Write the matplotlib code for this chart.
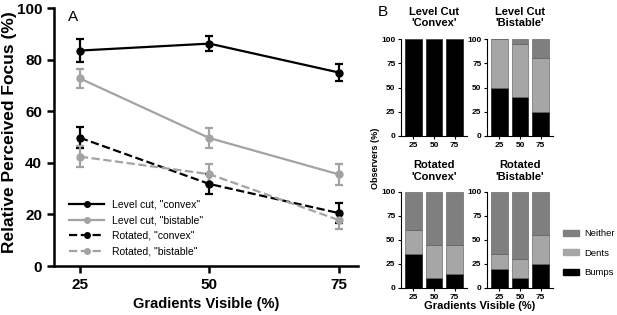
import numpy as np
import matplotlib
matplotlib.use('Agg')
import matplotlib.pyplot as plt
from matplotlib.patches import Patch
from matplotlib.lines import Line2D

plt.rcParams['font.family'] = ['Liberation Sans', 'DejaVu Sans']

# Panel A: relative perceived focus
gradients = [25, 50, 75]
level_convex = [83.5, 86.2, 75.0]
level_convex_err = [4.5, 3.0, 3.3]
level_bistable = [72.7, 49.6, 35.5]
level_bistable_err = [3.8, 4.0, 4.0]
rotated_convex = [49.7, 31.8, 20.5]
rotated_convex_err = [4.0, 3.8, 4.0]
rotated_bistable = [42.4, 35.6, 17.8]
rotated_bistable_err = [4.2, 4.0, 3.3]

# Panel B: observer responses (%), stacked
titles = ["Level Cut\n'Convex'", "Level Cut\n'Bistable'",
          "Rotated\n'Convex'", "Rotated\n'Bistable'"]
bumps = [[100, 100, 100], [50, 40, 25], [35, 10, 15], [20, 10, 25]]
dents = [[0, 0, 0], [50, 55, 55], [25, 35, 30], [15, 20, 30]]
neither = [[0, 0, 0], [0, 5, 20], [40, 55, 55], [65, 70, 45]]
tick_labels = ['25', '50', '75']

W, H = 617, 315
fig = plt.figure(figsize=(W / 100, H / 100), dpi=100)


def px_axes(l, r, t, b):
    return fig.add_axes([l / W, 1 - b / H, (r - l) / W, (b - t) / H])


gray = '#a3a3a3'
ax = px_axes(54, 358, 8, 266)
series = [
    (level_convex, level_convex_err, 'black', '-', 'Level cut, "convex"'),
    (level_bistable, level_bistable_err, gray, '-', 'Level cut, "bistable"'),
    (rotated_convex, rotated_convex_err, 'black', '--', 'Rotated, "convex"'),
    (rotated_bistable, rotated_bistable_err, gray, '--', 'Rotated, "bistable"'),
]
handles_a = []
for vals, errs, c, ls, lab in series:
    ax.errorbar(gradients, vals, yerr=errs, color=c, ls=ls, lw=1.6,
                marker='o', ms=5, capsize=3, elinewidth=1.6, capthick=1.6)
    handles_a.append(Line2D([], [], color=c, ls=ls, lw=1.6, marker='o', ms=4,
                            label=lab))
ax.set_xlim(20, 78.7)
ax.set_ylim(0, 100)
ax.set_xticks(gradients)
ax.set_yticks([0, 20, 40, 60, 80, 100])
for s in ['top', 'right']:
    ax.spines[s].set_visible(False)
for s in ['left', 'bottom']:
    ax.spines[s].set_linewidth(1.8)
ax.tick_params(width=1.8, length=5, labelsize=11)
for t in ax.get_xticklabels() + ax.get_yticklabels():
    t.set_fontweight('bold')
ax.set_xlabel('Gradients Visible (%)', fontsize=10.5, fontweight='bold')
ax.set_ylabel('Relative Perceived Focus (%)', fontsize=12.5, fontweight='bold')
ax.yaxis.set_label_coords(-0.122, 0.52)
ax.legend(handles=handles_a, loc='lower left', bbox_to_anchor=(0.02, 0.0),
          frameon=False, fontsize=7.5, handlelength=3.3, labelspacing=0.55)
ax.text(0.045, 0.965, 'A', transform=ax.transAxes, fontsize=11, va='center')

# Panel B
boxes = [(401, 467, 39, 136), (487, 553, 39, 136),
         (401, 467, 192, 288), (487, 553, 192, 288)]
x = np.arange(3)
for i, (l, r, t, b) in enumerate(boxes):
    bx = px_axes(l, r, t, b)
    bx.bar(x, bumps[i], 0.8, color='black', edgecolor='black', lw=0.4)
    bx.bar(x, dents[i], 0.8, bottom=bumps[i], color='#a6a6a6',
           edgecolor='#555555', lw=0.4)
    bot = np.array(bumps[i]) + np.array(dents[i])
    bx.bar(x, neither[i], 0.8, bottom=bot, color='#7f7f7f',
           edgecolor='#555555', lw=0.4)
    bx.set_xlim(-0.6, 2.6)
    bx.set_ylim(0, 100)
    bx.set_xticks(x)
    bx.set_xticklabels(tick_labels)
    bx.set_yticks([0, 25, 50, 75, 100])
    for s in ['top', 'right']:
        bx.spines[s].set_visible(False)
    bx.tick_params(labelsize=6, length=2, width=0.8, pad=2)
    for tl in bx.get_xticklabels() + bx.get_yticklabels():
        tl.set_fontweight('bold')
    bx.set_title(titles[i], fontsize=8, fontweight='bold', pad=9)

fig.text(378 / W, 1 - 12 / H, 'B', fontsize=11, va='center')
fig.text(376 / W, 1 - 158 / H, 'Observers (%)', fontsize=6.5,
         fontweight='bold', rotation=90, ha='center', va='center')
fig.text(480 / W, 1 - 306 / H, 'Gradients Visible (%)', fontsize=8,
         fontweight='bold', ha='center', va='center')

handles = [Patch(color='#7f7f7f'), Patch(color='#a6a6a6'), Patch(color='black')]
fig.legend(handles, ['Neither', 'Dents', 'Bumps'], loc='center left',
           bbox_to_anchor=(563 / W, 1 - 253 / H), frameon=False, fontsize=6.8,
           handlelength=1.7, handleheight=0.6, labelspacing=1.1,
           handletextpad=0.6, borderpad=0, borderaxespad=0)

fig.savefig('out.png', dpi=100)
